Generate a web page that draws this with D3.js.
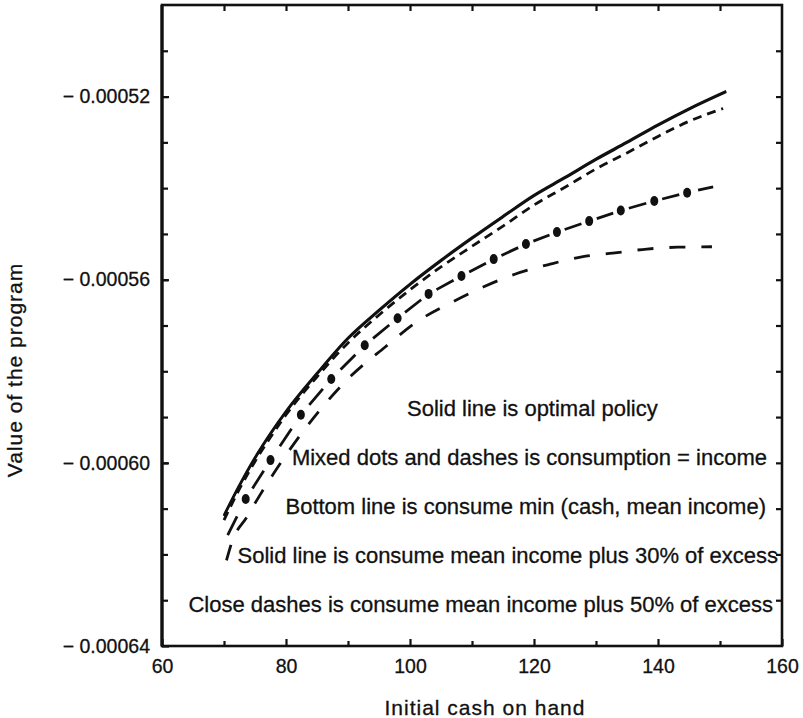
<!DOCTYPE html>
<html><head><meta charset="utf-8">
<script src="https://cdn.jsdelivr.net/npm/d3@7"></script>
<style>
body{margin:0;background:#fff}
svg{display:block}
text{font-family:"Liberation Sans",Arial,Helvetica,sans-serif;fill:#111;stroke:#111;stroke-width:0.3px}
</style>
</head><body>
<svg id="c" width="803" height="718"></svg>
<script>
// ---------- data ----------
const cashX = [70,72.5,75,77.5,80,85,90,95,100,105,110,115,120,125,130,135,140,145,151];
const optimal = [-0.0006114,-0.0006048,-0.0005988,-0.0005935,-0.0005887,-0.0005804,-0.0005727,-0.0005666,-0.0005609,-0.0005557,-0.0005508,-0.0005461,-0.0005415,-0.0005376,-0.0005336,-0.0005299,-0.0005261,-0.0005226,-0.0005188];
const plus30 = [-0.0006116,-0.0006050,-0.0005990,-0.0005937,-0.0005889,-0.0005806,-0.0005729,-0.0005668,-0.0005611,-0.0005559,-0.0005510,-0.0005463,-0.0005417,-0.0005378,-0.0005338,-0.0005301,-0.0005263,-0.0005228,-0.0005190];
const closeX = [70,72.5,75,77.5,80,85,90,95,100,105,110,115,120,125,130,135,140,145,150.5];
const plus50 = [-0.0006125,-0.0006057,-0.0005997,-0.0005944,-0.0005895,-0.0005812,-0.0005738,-0.0005677,-0.0005622,-0.0005572,-0.0005527,-0.0005483,-0.0005437,-0.0005398,-0.0005358,-0.0005323,-0.0005287,-0.0005254,-0.0005226];
const incomeX = [70.6,73.5,77.5,82.4,87.3,92.7,98.0,103.0,108.3,113.5,118.7,123.7,128.9,134.0,139.4,144.7,148.9];
const incomeY = [-0.0006158,-0.0006079,-0.0005994,-0.0005895,-0.0005817,-0.0005743,-0.0005684,-0.0005631,-0.0005592,-0.0005555,-0.0005522,-0.0005496,-0.0005472,-0.0005449,-0.0005428,-0.0005410,-0.0005397];
const minX = [70.4,71.3,73.7,75.5,80.2,85.2,90.5,96.0,101.1,106.5,111.8,116.9,122.6,127.7,132.7,138.2,143.2,148.7];
const minY = [-0.0006213,-0.0006172,-0.0006118,-0.0006077,-0.0005979,-0.0005889,-0.0005810,-0.0005747,-0.0005692,-0.0005651,-0.0005616,-0.0005588,-0.0005566,-0.0005550,-0.0005542,-0.0005533,-0.0005529,-0.0005528];

const xMajor = [60,80,100,120,140,160];
const xMinor = [70,90,110,130,150];
const xTop = [70,80,90,100,110,120,130,140,150];
const yMajor = [-0.00052,-0.00056,-0.00060,-0.00064];
const yAll = [-0.00063,-0.00062,-0.00061,-0.00060,-0.00059,-0.00058,-0.00057,-0.00056,-0.00055,-0.00054,-0.00053,-0.00052,-0.00051];
const xTitle = "Initial cash on hand";
const yTitle = "Value of the program";
const notes = [
  "Solid line is optimal policy",
  "Mixed dots and dashes is consumption = income",
  "Bottom line is consume min (cash, mean income)",
  "Solid line is consume mean income plus 30% of excess",
  "Close dashes is consume mean income plus 50% of excess"
];

// ---------- drawing ----------
const svg = d3.select('#c');
const FONT = '"Liberation Sans",Arial,Helvetica,sans-serif';
const L = 162, R = 782, T = 5, B = 646;
const x = d3.scaleLinear().domain([60,160]).range([L,R]);
const y = d3.scaleLinear().domain([-0.00064,-0.0005]).range([B,T]);
const INK = '#111';

function styleAxis(g, fs){
  g.select('.domain').remove();
  g.attr('font-family', FONT).attr('font-size', fs);
  g.selectAll('.tick line').attr('stroke', INK).attr('stroke-width', 2.2);
  g.selectAll('.tick text').attr('fill', INK);
}

// bottom axis
svg.append('g').attr('transform',`translate(0,${B})`)
  .call(d3.axisBottom(x).tickValues(xMajor).tickSizeInner(-7).tickSizeOuter(0).tickPadding(13).tickFormat(d3.format('d')))
  .call(g=>styleAxis(g,19.5));
svg.append('g').attr('transform',`translate(0,${B})`)
  .call(d3.axisBottom(x).tickValues(xMinor).tickSizeInner(-5).tickSizeOuter(0).tickFormat(''))
  .call(g=>styleAxis(g,19.5));
// top axis
svg.append('g').attr('transform',`translate(0,${T})`)
  .call(d3.axisTop(x).tickValues(xTop).tickSizeInner(-6).tickSizeOuter(0).tickFormat(''))
  .call(g=>styleAxis(g,19.5));
// left axis
svg.append('g').attr('transform',`translate(${L},0)`)
  .call(d3.axisLeft(y).tickValues(yAll).tickSizeInner(-6).tickSizeOuter(0).tickFormat(''))
  .call(g=>styleAxis(g,19.5));
svg.append('g').attr('transform',`translate(${L},0)`)
  .call(d3.axisLeft(y).tickValues(yMajor).tickSizeInner(-7).tickSizeOuter(0).tickPadding(12)
        .tickFormat(d => '\u2212 ' + d3.format('.5f')(-d)))
  .call(g=>styleAxis(g,19.5));
// right axis
svg.append('g').attr('transform',`translate(${R},0)`)
  .call(d3.axisRight(y).tickValues(yAll).tickSizeInner(-6).tickSizeOuter(0).tickFormat(''))
  .call(g=>styleAxis(g,19.5));

// frame
svg.append('rect').attr('x',L).attr('y',T).attr('width',R-L).attr('height',B-T)
  .attr('fill','none').attr('stroke',INK).attr('stroke-width',2.6);
svg.append('line').attr('x1',L).attr('x2',L).attr('y1',T).attr('y2',B)
  .attr('stroke',INK).attr('stroke-width',3.2);

// axis titles
svg.append('text').attr('x',485).attr('y',715).attr('text-anchor','middle')
  .attr('font-size',21).attr('letter-spacing',1).text(xTitle);
svg.append('text').attr('transform','translate(22,370) rotate(-90)').attr('text-anchor','middle')
  .attr('font-size',21).attr('letter-spacing',1).text(yTitle);

// curves
const lineC = d3.line().x(d=>x(d[0])).y(d=>y(d[1])).curve(d3.curveMonotoneX);
const zip = (a,b) => a.map((v,i)=>[v,b[i]]);

svg.append('path').datum(zip(cashX, plus30)).attr('d', lineC)
  .attr('fill','none').attr('stroke',INK).attr('stroke-width',2.4);
svg.append('path').datum(zip(cashX, optimal)).attr('d', lineC)
  .attr('fill','none').attr('stroke',INK).attr('stroke-width',2.4);
svg.append('path').datum(zip(closeX, plus50)).attr('d', lineC)
  .attr('fill','none').attr('stroke',INK).attr('stroke-width',2.8).attr('stroke-dasharray','9,6');
svg.append('path').datum(zip(minX, minY)).attr('d', lineC)
  .attr('fill','none').attr('stroke',INK).attr('stroke-width',2.8).attr('stroke-dasharray','16,16');

// mixed dots and dashes: a dash between consecutive dots
const inc = zip(incomeX, incomeY);
const gInc = svg.append('g');
for (let i = 0; i < inc.length-1; i++){
  const x1 = x(inc[i][0]), y1 = y(inc[i][1]), x2 = x(inc[i+1][0]), y2 = y(inc[i+1][1]);
  const s = Math.hypot(x2-x1, y2-y1);
  const dl = Math.min(0.52*s, 21);
  let da;
  if (i === 0) da = `${dl},${s}`;
  else if (i === inc.length-2) da = `0,${s*0.42},${s},${s}`;
  else da = `0,${(s-dl)/2},${dl},${s}`;
  gInc.append('line').attr('x1',x1).attr('y1',y1).attr('x2',x2).attr('y2',y2)
    .attr('stroke',INK).attr('stroke-width',2.8).attr('stroke-dasharray',da);
}
gInc.selectAll('ellipse').data(inc.slice(1, inc.length-1)).join('ellipse')
  .attr('cx',d=>x(d[0])).attr('cy',d=>y(d[1])).attr('rx',4).attr('ry',5).attr('fill',INK);

// annotations
const notePos = [
  {x:407, y:416, a:'start'},
  {x:767, y:465, a:'end'},
  {x:766, y:514, a:'end'},
  {x:778, y:563, a:'end'},
  {x:773, y:612, a:'end'}
];
svg.append('g').selectAll('text').data(notes).join('text')
  .attr('x',(d,i)=>notePos[i].x).attr('y',(d,i)=>notePos[i].y)
  .attr('text-anchor',(d,i)=>notePos[i].a)
  .attr('font-size',22).text(d=>d);
</script>
</body></html>
